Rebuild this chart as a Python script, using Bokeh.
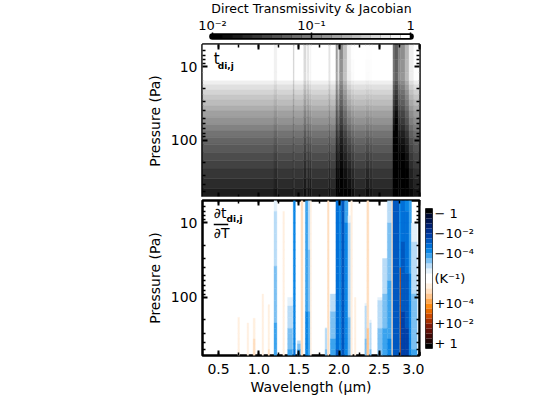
from bokeh.plotting import figure
from bokeh.models import (ColumnDataSource, FixedTicker, Label, LinearAxis, LogAxis,
                          PrintfTickFormatter, SingleIntervalTicker, Range1d)
from bokeh.embed import file_html
from bokeh.resources import INLINE
import math

FONT = "DejaVu Sans"
X_RANGE = (0.3, 3.0)
P_RANGE = (600, 5)

# --- upper panel: transmissivity per pressure band
t_edges = [5, 8, 12, 15.6, 17.6, 20.6, 24, 28, 33.8, 40, 48.6, 61, 75, 91, 113, 146, 190, 245, 335, 455, 600]
t_values = [1, 1, 1, .76, .58, .46, .37, .30, .235, .18, .14, .105, .08, .062, .05, .04, .033, .027, .022, .017]

# absorption features: left, right wavelength, extra optical depth at top and bottom
t_left = [1.19, 1.43, 1.56, 1.605, 1.635, 1.87, 1.96, 1.985, 2.005, 2.05, 2.10, 2.15, 2.33, 2.375, 2.67, 2.695, 2.735, 2.76, 2.82, 2.87, 2.93]
t_right = [1.23, 1.445, 1.595, 1.625, 1.655, 1.895, 1.985, 2.005, 2.05, 2.10, 2.15, 2.19, 2.375, 2.41, 2.695, 2.735, 2.76, 2.82, 2.87, 2.93, 3.0]
t_od_top = [.25, 1.0, .7, .6, .15, .5, 1.9, .5, 2.2, 1.2, .25, 0, 0, 0, 2.6, 3.0, 2.3, 2.1, 1.3, .3, 0]
t_od_bot = [.2, .25, .25, .2, .2, .2, .6, .7, .7, .6, .5, .3, .3, .15, 1.6, 2.2, 1.0, 1.1, 1.0, .4, .15]

# --- lower panel: Jacobian features
j_edges = [5, 7, 10, 14, 18, 23, 30, 38, 48, 60, 75, 90, 110, 130, 155, 185, 220, 260, 305, 360, 420, 500, 600]
j_left = [.74, .855, .93, 1.04, 1.115, 1.19, 1.30, 1.36, 1.43, 1.48, 1.525, 1.58, 1.615, 1.64, 1.825, 1.855, 1.89, 1.96, 2.0, 2.03, 2.07, 2.11, 2.145, 2.19, 2.32, 2.345, 2.38, 2.48, 2.54, 2.6, 2.655, 2.67, 2.75, 2.77, 2.82, 2.87, 2.9, 2.757]
j_right = [.76, .875, .955, 1.06, 1.135, 1.225, 1.32, 1.42, 1.455, 1.52, 1.55, 1.615, 1.64, 1.655, 1.85, 1.875, 1.96, 2.0, 2.03, 2.07, 2.11, 2.145, 2.165, 2.21, 2.345, 2.37, 2.40, 2.54, 2.6, 2.655, 2.67, 2.75, 2.77, 2.82, 2.87, 2.9, 2.97, 2.763]
j_sign = [1, 1, 1, 1, 1, -1, 1, -1, -1, -1, 1, -1, -1, 1, -1, 1, -1, -1, -1, -1, -1, -1, 1, 1, -1, 1, -1, -1, -1, -1, 1, -1, -1, -1, -1, -1, -1, 1]
j_onset = [74, 134, 190, 18, 125, 5, 7, 100, 5, 380, 5, 5, 5, 5, 255, 5, 90, 5, 5, 5, 5, 8, 5, 100, 120, 5, 200, 100, 30, 5, 5, 5, 5, 5, 5, 5, 10, 40]
j_exp_top = [-6.2, -6.2, -6.0, -6.2, -5.9, -5.7, -5.9, -5.7, -3.7, -5.5, -5.5, -4.3, -5.4, -5.9, -5.6, -5.5, -5.4, -3.2, -4.0, -2.9, -4.1, -5.6, -5.9, -6.0, -5.6, -5.5, -5.6, -5.6, -5.6, -5.2, -5.3, -2.9, -3.7, -3.3, -3.7, -4.2, -5.7, -3.0]
j_exp_bot = [-5.8, -5.7, -5.2, -5.8, -5.5, -4.2, -5.7, -4.4, -3.5, -4.4, -5.5, -3.9, -4.2, -5.7, -5.0, -5.5, -4.2, -3.0, -3.6, -2.9, -3.6, -4.8, -5.9, -5.9, -4.8, -4.9, -5.0, -4.6, -4.1, -3.9, -5.3, -2.9, -3.6, -2.2, -2.3, -3.8, -4.5, -2.6]

# --- colour scales
gray_bar_edges = [-2 + i * .1 for i in range(21)]
neg_colors = ["#ffffff", "#e4f1fb", "#b9dcf7", "#7cc0f2", "#3ba3ee", "#0a86e6", "#0070d8", "#0058c0",
              "#0040a8", "#00308f", "#002070", "#001450", "#000a30", "#000000"]
pos_colors = ["#ffffff", "#fff0e0", "#ffdfc0", "#ffc68f", "#ffa850", "#ff8a10", "#e86a00", "#cc4a00",
              "#a83000", "#7f1a08", "#601008", "#400806", "#200403", "#000000"]
bar_ticks = [-6.5, -4.5, -2.5, 0, 2.5, 4.5, 6.5]
bar_labels = ["\u2212 1", "\u221210\u207b\u00b2", "\u221210\u207b\u2074", "(K\u207b\u00b9)", "+10\u207b\u2074", "+10\u207b\u00b2", "+ 1"]
x_major = [.5, 1, 1.5, 2, 2.5, 3]
y_major = [10, 100]


def place(left, top):
    return {"position": "absolute", "left": f"{left}px", "top": f"{top}px"}


def gray(t):
    g = 255 * (math.log10(max(t, 1e-4)) + 2) / 2
    g = int(max(0, min(255, g)))
    return "#%02x%02x%02x" % (g, g, g)


def jac_color(sign, e):
    s = max(0.0, e + 6.5)
    i = min(13, int(s / .5))
    return (neg_colors if sign < 0 else pos_colors)[i]


def frac(pa, pb):
    return (math.log10(math.sqrt(pa * pb)) - math.log10(P_RANGE[1])) / (math.log10(P_RANGE[0]) - math.log10(P_RANGE[1]))


def style_axes(p, show_x):
    x_tick = lambda: SingleIntervalTicker(interval=.5, num_minor_ticks=2)
    y_tick = lambda: FixedTicker(ticks=y_major, minor_ticks=[6, 7, 8, 9, 20, 30, 40, 50, 60, 70, 80, 90, 200, 300, 400, 500])
    blank_x = {v: "" for v in x_major}
    blank_y = {v: "" for v in y_major}
    p.xaxis.ticker = x_tick()
    p.yaxis.ticker = y_tick()
    p.yaxis.major_label_overrides = {10: "10", 100: "100"}
    p.yaxis.axis_label = "Pressure (Pa)"
    p.yaxis.axis_label_text_font = FONT
    p.yaxis.axis_label_text_font_size = "14px"
    p.yaxis.axis_label_text_font_style = "normal"
    p.yaxis.axis_label_standoff = 5
    p.yaxis.major_label_standoff = 5
    p.add_layout(LinearAxis(ticker=x_tick(), major_label_overrides=blank_x, major_label_standoff=0), "above")
    p.add_layout(LogAxis(ticker=y_tick(), major_label_overrides=blank_y, major_label_standoff=0), "right")
    for ax in p.axis:
        ax.major_tick_in = 5
        ax.major_tick_out = 0
        ax.minor_tick_in = 3
        ax.minor_tick_out = 0
        ax.major_tick_line_width = 2
        ax.minor_tick_line_width = 1.5
        ax.axis_line_color = None
        ax.major_label_text_font = FONT
        ax.major_label_text_color = "black"
        ax.axis_label_text_color = "black"
    p.yaxis[0].major_label_text_font_size = "14px"
    if show_x:
        ax = p.below[0]
        ax.formatter = PrintfTickFormatter(format="%.1f")
        ax.major_label_text_font_size = "14px"
        ax.major_label_standoff = 8
        ax.axis_label = "Wavelength (\u00b5m)"
        ax.axis_label_text_font = FONT
        ax.axis_label_text_font_size = "14px"
        ax.axis_label_text_font_style = "normal"
        ax.axis_label_standoff = 2
    else:
        p.below[0].major_label_overrides = blank_x
        p.below[0].major_label_standoff = 0
    p.grid.visible = False
    p.outline_line_color = "black"
    p.outline_line_width = 2.5
    p.background_fill_color = "white"


def panel(frame_h, bottom, y):
    return figure(frame_width=217, frame_height=frame_h, x_range=Range1d(*X_RANGE),
                  y_range=Range1d(*P_RANGE), y_axis_type="log", toolbar_location=None,
                  output_backend="svg", min_border_left=202, min_border_right=5,
                  min_border_top=4, min_border_bottom=bottom, styles=place(0, y))


# --- top colour bar
cb = figure(frame_width=208, frame_height=8, x_axis_type="log", x_range=Range1d(10 ** -2.05, 10 ** .05),
            y_range=Range1d(0, 1), toolbar_location=None, output_backend="svg",
            x_axis_location="above", min_border_left=207, min_border_right=5,
            min_border_top=33, min_border_bottom=1, styles=place(0, -3))
cb.line(x=[.01, 1], y=[.5, .5], line_color="black", line_width=6.5, line_cap="round")
n = len(gray_bar_edges) - 1
cb.quad(left=[10 ** e for e in gray_bar_edges[:-1]], right=[10 ** e for e in gray_bar_edges[1:]],
        bottom=.3, top=.7, fill_color=["#%02x%02x%02x" % ((int(255 * i / (n - 1)),) * 3) for i in range(n)],
        line_color=None)
cb.yaxis.visible = False
cb.grid.visible = False
ax = cb.above[0]
ax.ticker = FixedTicker(ticks=[.01, .1, 1], minor_ticks=[])
ax.major_label_overrides = {.01: "10\u207b\u00b2", .1: "10\u207b\u00b9", 1: "1"}
ax.major_label_text_font = FONT
ax.major_label_text_font_size = "13px"
ax.major_label_text_color = "black"
ax.major_label_standoff = 0
ax.major_tick_in = 6
ax.major_tick_out = 0
ax.major_tick_line_width = 1.5
ax.axis_line_color = None
ax.axis_label = "Direct Transmissivity & Jacobian"
ax.axis_label_text_font = FONT
ax.axis_label_text_font_size = "12.5px"
ax.axis_label_text_font_style = "normal"
ax.axis_label_text_color = "black"
ax.axis_label_standoff = -1
cb.outline_line_color = None

# --- upper panel
top = panel(153, 3, 40)
edges = sorted(set([X_RANGE[0], X_RANGE[1]] + t_left + t_right))
L, R, B, T, C = [], [], [], [], []
for a, b in zip(edges[:-1], edges[1:]):
    mid = (a + b) / 2
    feat = [i for i in range(len(t_left)) if t_left[i] <= mid < t_right[i]]
    for r in range(len(t_values)):
        pa, pb = t_edges[r], t_edges[r + 1]
        od = 0
        if feat:
            f = frac(pa, pb)
            i = feat[0]
            od = t_od_top[i] + (t_od_bot[i] - t_od_top[i]) * f
        L.append(a); R.append(b); T.append(pa); B.append(pb)
        C.append(gray(t_values[r] * math.exp(-od)))
src = ColumnDataSource(dict(left=L, right=R, top=T, bottom=B, color=C))
top.quad(left="left", right="right", top="top", bottom="bottom", fill_color="color", line_color="color",
         line_width=.4, source=src)
style_axes(top, False)
top.add_layout(Label(x=.44, y=10.4, text="t", text_font=FONT, text_font_size="15px", text_color="black"))
top.add_layout(Label(x=.49, y=11.3, text="di,j", text_font=FONT, text_font_size="9px",
                     text_font_style="bold", text_color="black"))

# --- lower panel
bot = panel(155, 41, 196)
L, R, B, T, C = [], [], [], [], []
for i in range(len(j_left)):
    for r in range(len(j_edges) - 1):
        pa, pb = j_edges[r], j_edges[r + 1]
        if pb <= j_onset[i]:
            continue
        pa = max(pa, j_onset[i])
        f = (math.log10(pb) - math.log10(j_onset[i])) / (math.log10(P_RANGE[0]) - math.log10(j_onset[i]))
        e = j_exp_top[i] + (j_exp_bot[i] - j_exp_top[i]) * f
        L.append(j_left[i]); R.append(j_right[i]); T.append(pa); B.append(pb)
        C.append(jac_color(j_sign[i], e))
src = ColumnDataSource(dict(left=L, right=R, top=T, bottom=B, color=C))
bot.quad(left="left", right="right", top="top", bottom="bottom", fill_color="color", line_color="color",
         line_width=.4, source=src)
style_axes(bot, True)
bot.add_layout(Label(x=.44, y=9.3, text="\u2202t", text_font=FONT, text_font_size="14px", text_color="black"))
bot.add_layout(Label(x=.6, y=10.3, text="di,j", text_font=FONT, text_font_size="9px",
                     text_font_style="bold", text_color="black"))
bot.add_layout(Label(x=.44, y=17.3, text="\u2202T", text_font=FONT, text_font_size="14px", text_color="black"))
bot.line(x=[.44, .62], y=[10.5, 10.5], line_color="black", line_width=1.5)

# --- right colour bar
rb = figure(frame_width=7, frame_height=140, x_range=Range1d(0, 1), y_range=Range1d(7, -7),
            toolbar_location=None, output_backend="svg", y_axis_location="right",
            min_border_left=5, min_border_right=60, min_border_top=8, min_border_bottom=4,
            styles=place(420, 200))
steps = list(range(14))
rb.quad(left=0, right=1, top=[s * -.5 for s in steps], bottom=[(s + 1) * -.5 for s in steps],
        fill_color=neg_colors, line_color=None)
rb.quad(left=0, right=1, top=[s * .5 for s in steps], bottom=[(s + 1) * .5 for s in steps],
        fill_color=pos_colors, line_color=None)
rb.xaxis.visible = False
rb.grid.visible = False
a = rb.right[0]
a.ticker = FixedTicker(ticks=bar_ticks, minor_ticks=[])
a.major_label_overrides = dict(zip(bar_ticks, bar_labels))
a.major_label_text_font = FONT
a.major_label_text_font_size = "13px"
a.major_label_text_color = "black"
a.major_label_standoff = 2
a.major_tick_in = 0
a.major_tick_out = 0
a.axis_line_color = None
rb.outline_line_color = "#333333"
rb.outline_line_width = 1

open("out.html", "w").write(file_html([cb, top, bot, rb], INLINE))
